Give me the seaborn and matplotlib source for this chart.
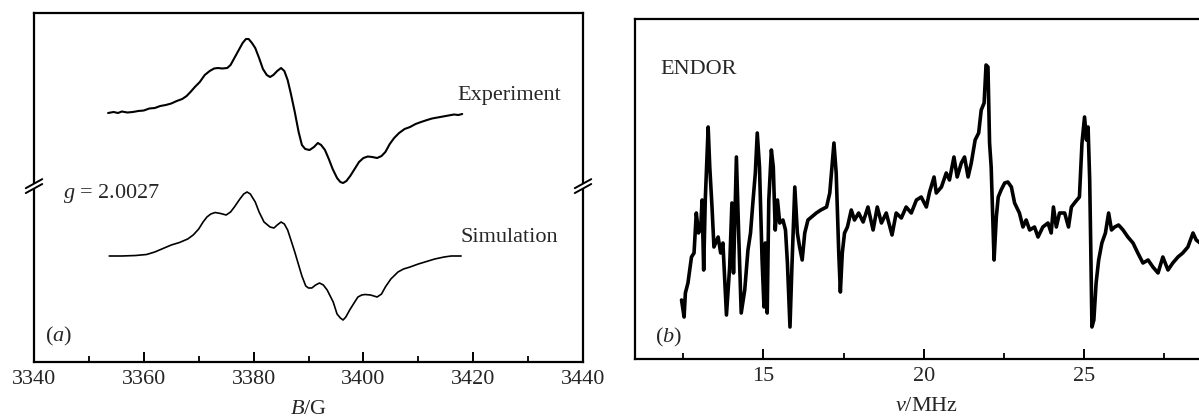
import numpy as np
import pandas as pd
import matplotlib
matplotlib.use("Agg")
import matplotlib.pyplot as plt
from matplotlib.patches import Polygon
from matplotlib.ticker import MultipleLocator
import seaborn as sns

# ---------------- data ----------------
# (a) EPR spectrum: field B (G) and first-derivative intensity (arb. units)
epr_exp_B = [3353.5, 3354.5, 3355.3, 3356.0, 3357.0, 3358.0, 3359.0, 3360.0, 3361.0, 3362.0,
             3363.0, 3364.0, 3365.0, 3366.0, 3367.0, 3367.8, 3368.5, 3369.3, 3370.2, 3371.1,
             3372.0, 3372.8, 3373.5, 3374.3, 3375.2, 3375.8, 3376.5, 3377.3, 3378.0, 3378.6,
             3379.1, 3379.7, 3380.3, 3381.0, 3381.7, 3382.4, 3383.0, 3383.6, 3384.3, 3385.0,
             3385.6, 3386.2, 3386.8, 3387.5, 3388.2, 3388.8, 3389.4, 3390.2, 3391.0, 3391.7,
             3392.3, 3393.0, 3393.7, 3394.4, 3395.2, 3395.8, 3396.3, 3396.9, 3397.6, 3398.4,
             3399.2, 3400.0, 3400.8, 3401.6, 3402.5, 3403.3, 3404.0, 3404.8, 3405.6, 3406.5,
             3407.5, 3408.5, 3409.5, 3410.5, 3411.6, 3412.5, 3413.5, 3414.5, 3415.5, 3416.5,
             3417.3, 3418.0]
epr_exp_I = [249, 250, 249, 250.5, 249.5, 250, 251, 251.5, 253.5, 254,
             256, 257, 258.5, 261, 263, 266, 270, 275, 280, 287,
             291, 293.5, 294, 293.5, 294, 297, 304, 312, 319, 323,
             323, 319, 314, 304, 293, 287, 285, 287, 291, 294,
             291, 282, 268, 250, 230, 217, 213, 212, 215, 219,
             217, 212, 203, 193, 184, 180, 179, 181, 186, 193,
             200, 204, 205.5, 205, 204, 206, 210, 218, 224, 229,
             233, 235, 238, 240, 242, 243.5, 244.5, 245.5, 246.5, 247.5,
             247, 248]

epr_sim_B = [3353.7, 3356.0, 3358.5, 3360.5, 3362.0, 3363.5, 3365.0, 3366.5, 3368.0, 3369.0,
             3370.0, 3370.8, 3371.5, 3372.2, 3373.0, 3374.0, 3375.0, 3375.8, 3376.5, 3377.5,
             3378.2, 3378.8, 3379.4, 3380.3, 3381.0, 3381.9, 3383.0, 3383.7, 3384.3, 3385.0,
             3385.6, 3386.2, 3386.8, 3387.5, 3388.2, 3388.8, 3389.5, 3390.0, 3390.6, 3391.3,
             3392.0, 3392.7, 3393.4, 3394.5, 3395.2, 3395.8, 3396.3, 3396.8, 3397.5, 3398.3,
             3399.0, 3399.7, 3400.3, 3401.3, 3402.5, 3403.3, 3404.0, 3405.0, 3406.3, 3407.3,
             3408.5, 3410.0, 3411.5, 3413.0, 3414.7, 3416.0, 3417.8]
epr_sim_I = [106, 106, 106.5, 107.5, 110, 113.5, 117, 119.5, 123, 127,
             133, 140, 145, 148, 149.5, 148.5, 147, 150, 155, 163,
             168, 170, 168, 160, 150, 140, 135, 134, 137, 140,
             138, 132, 122, 110, 97, 86, 76, 74, 74, 77,
             79, 77, 72, 60, 48, 44, 42, 45, 52, 59,
             65, 67, 67.5, 67, 65, 68, 75, 83, 90, 93,
             95, 98, 100.5, 103, 105, 106, 106]

# (b) ENDOR spectrum: frequency (MHz) and intensity (arb. units)
endor_nu = [12.45, 12.53, 12.57, 12.65, 12.76, 12.84, 12.91, 12.98, 13.05, 13.09,
            13.14, 13.19, 13.28, 13.33, 13.40, 13.46, 13.59, 13.67, 13.74, 13.85,
            13.95, 14.02, 14.07, 14.16, 14.23, 14.31, 14.42, 14.52, 14.60, 14.68,
            14.75, 14.81, 14.88, 14.96, 15.02, 15.06, 15.12, 15.17, 15.25, 15.31,
            15.37, 15.44, 15.51, 15.61, 15.69, 15.75, 15.83, 15.89, 15.98, 16.06,
            16.13, 16.21, 16.29, 16.39, 16.50, 16.65, 16.79, 16.97, 17.07, 17.20,
            17.27, 17.35, 17.40, 17.46, 17.53, 17.62, 17.74, 17.84, 17.97, 18.11,
            18.26, 18.42, 18.55, 18.68, 18.83, 19.01, 19.14, 19.30, 19.45, 19.61,
            19.77, 19.92, 20.08, 20.18, 20.32, 20.39, 20.55, 20.70, 20.80, 20.94,
            21.04, 21.17, 21.27, 21.38, 21.48, 21.60, 21.71, 21.79, 21.88, 21.94,
            22.00, 22.05, 22.10, 22.16, 22.19, 22.26, 22.32, 22.41, 22.52, 22.62,
            22.73, 22.83, 22.98, 23.09, 23.19, 23.30, 23.45, 23.56, 23.71, 23.87,
            23.97, 24.04, 24.13, 24.23, 24.39, 24.51, 24.60, 24.72, 24.85, 24.93,
            25.01, 25.07, 25.12, 25.17, 25.20, 25.24, 25.30, 25.37, 25.45, 25.55,
            25.66, 25.76, 25.85, 25.95, 26.07, 26.21, 26.36, 26.52, 26.67, 26.83,
            26.99, 27.14, 27.30, 27.45, 27.61, 27.76, 27.92, 28.07, 28.23, 28.39,
            28.49, 28.61, 28.75]
endor_I = [59, 42, 66, 76, 102, 106, 146, 126, 132, 159,
           89, 159, 232, 192, 152, 112, 122, 106, 116, 44,
           92, 156, 86, 202, 126, 46, 69, 109, 126, 159,
           186, 226, 192, 99, 52, 116, 46, 159, 209, 192,
           129, 159, 136, 139, 129, 96, 32, 92, 172, 126,
           112, 99, 126, 139, 142, 146, 149, 152, 166, 216,
           186, 106, 67, 106, 126, 132, 149, 139, 146, 137,
           152, 129, 152, 136, 146, 124, 146, 141, 152, 146,
           159, 162, 152, 167, 182, 166, 172, 186, 179, 202,
           182, 196, 202, 182, 196, 219, 226, 249, 256, 294,
           292, 216, 192, 129, 99, 142, 162, 169, 176, 177,
           172, 156, 146, 132, 139, 129, 132, 122, 132, 136,
           126, 152, 132, 146, 146, 132, 152, 157, 162, 216,
           242, 219, 232, 179, 119, 32, 39, 76, 99, 116,
           126, 146, 129, 132, 134, 129, 122, 116, 106, 96,
           99, 92, 86, 102, 89, 96, 102, 106, 112, 126,
           119, 116, 120]

exp_df = pd.DataFrame({"B": epr_exp_B, "I": epr_exp_I})
sim_df = pd.DataFrame({"B": epr_sim_B, "I": epr_sim_I})
endor_df = pd.DataFrame({"nu": endor_nu, "I": endor_I})

# ---------------- style ----------------
sns.set_style("white")
plt.rcParams["font.family"] = ["Liberation Serif", "DejaVu Serif"]
plt.rcParams["mathtext.fontset"] = "custom"
plt.rcParams["mathtext.rm"] = "Liberation Serif"
plt.rcParams["mathtext.it"] = "Liberation Serif:italic"
FS = 16

fig = plt.figure(figsize=(11.99, 4.2), dpi=100)
W, H = 1199.0, 420.0
ax_a = fig.add_axes([34 / W, (H - 362) / H, (583 - 34) / W, (362 - 13) / H])
ax_b = fig.add_axes([635 / W, (H - 359) / H, (1219 - 635) / W, (359 - 19) / H])


def style_axes(ax):
    for s in ax.spines.values():
        s.set_linewidth(1.6)
        s.set_color("black")
    ax.set_yticks([])
    ax.tick_params(axis="x", which="both", direction="in", top=False, bottom=True,
                   labelsize=FS, pad=6, color="black")
    ax.tick_params(axis="x", which="major", length=7, width=1.4)
    ax.tick_params(axis="x", which="minor", length=4, width=1.3)
    ax.set_ylabel("")


# ---------------- (a) EPR ----------------
sns.lineplot(data=exp_df, x="B", y="I", ax=ax_a, color="black", lw=1.5,
             sort=False, estimator=None)
sns.lineplot(data=sim_df, x="B", y="I", ax=ax_a, color="black", lw=1.2,
             sort=False, estimator=None)
ax_a.set_xlim(3340, 3440)
ax_a.set_ylim(0, 349)
ax_a.xaxis.set_major_locator(MultipleLocator(20))
ax_a.xaxis.set_minor_locator(MultipleLocator(10))
style_axes(ax_a)
ax_a.set_xlabel(r"$B$/G", fontsize=FS, labelpad=8)

ax_a.text(0.772, 0.765, "Experiment", transform=ax_a.transAxes, fontsize=FS,
          ha="left", va="center")
ax_a.text(0.776, 0.358, "Simulation", transform=ax_a.transAxes, fontsize=FS,
          ha="left", va="center")
ax_a.text(0.053, 0.484, r"$g$ = 2.0027", transform=ax_a.transAxes, fontsize=FS,
          ha="left", va="center")
ax_a.text(0.02, 0.072, r"($a$)", transform=ax_a.transAxes, fontsize=FS,
          ha="left", va="center")

# axis-break marks on both vertical spines
yb = 0.504
dx, dy, gap = 0.015, 0.013, 0.007
for xs in (0.0, 1.0):
    poly = Polygon([(xs - dx, yb - dy - gap), (xs + dx, yb + dy - gap),
                    (xs + dx, yb + dy + gap), (xs - dx, yb - dy + gap)],
                   closed=True, transform=ax_a.transAxes, facecolor="white",
                   edgecolor="none", clip_on=False, zorder=10)
    ax_a.add_patch(poly)
    for off in (-gap, gap):
        ax_a.plot([xs - dx, xs + dx], [yb - dy + off, yb + dy + off],
                  transform=ax_a.transAxes, color="black", lw=1.4,
                  clip_on=False, zorder=11)

# ---------------- (b) ENDOR ----------------
sns.lineplot(data=endor_df, x="nu", y="I", ax=ax_b, color="black", lw=2.6,
             sort=False, estimator=None)
ax_b.set_xlim(11, 29.2)
ax_b.set_ylim(0, 340)
ax_b.xaxis.set_major_locator(MultipleLocator(5))
ax_b.xaxis.set_minor_locator(MultipleLocator(2.5))
style_axes(ax_b)
ax_b.set_xlabel(r"$\nu$/MHz", fontsize=FS, labelpad=8)

ax_b.text(0.043, 0.85, "ENDOR", transform=ax_b.transAxes, fontsize=FS,
          ha="left", va="center")
ax_b.text(0.034, 0.062, r"($b$)", transform=ax_b.transAxes, fontsize=FS,
          ha="left", va="center")

fig.savefig("out.png", dpi=100)
